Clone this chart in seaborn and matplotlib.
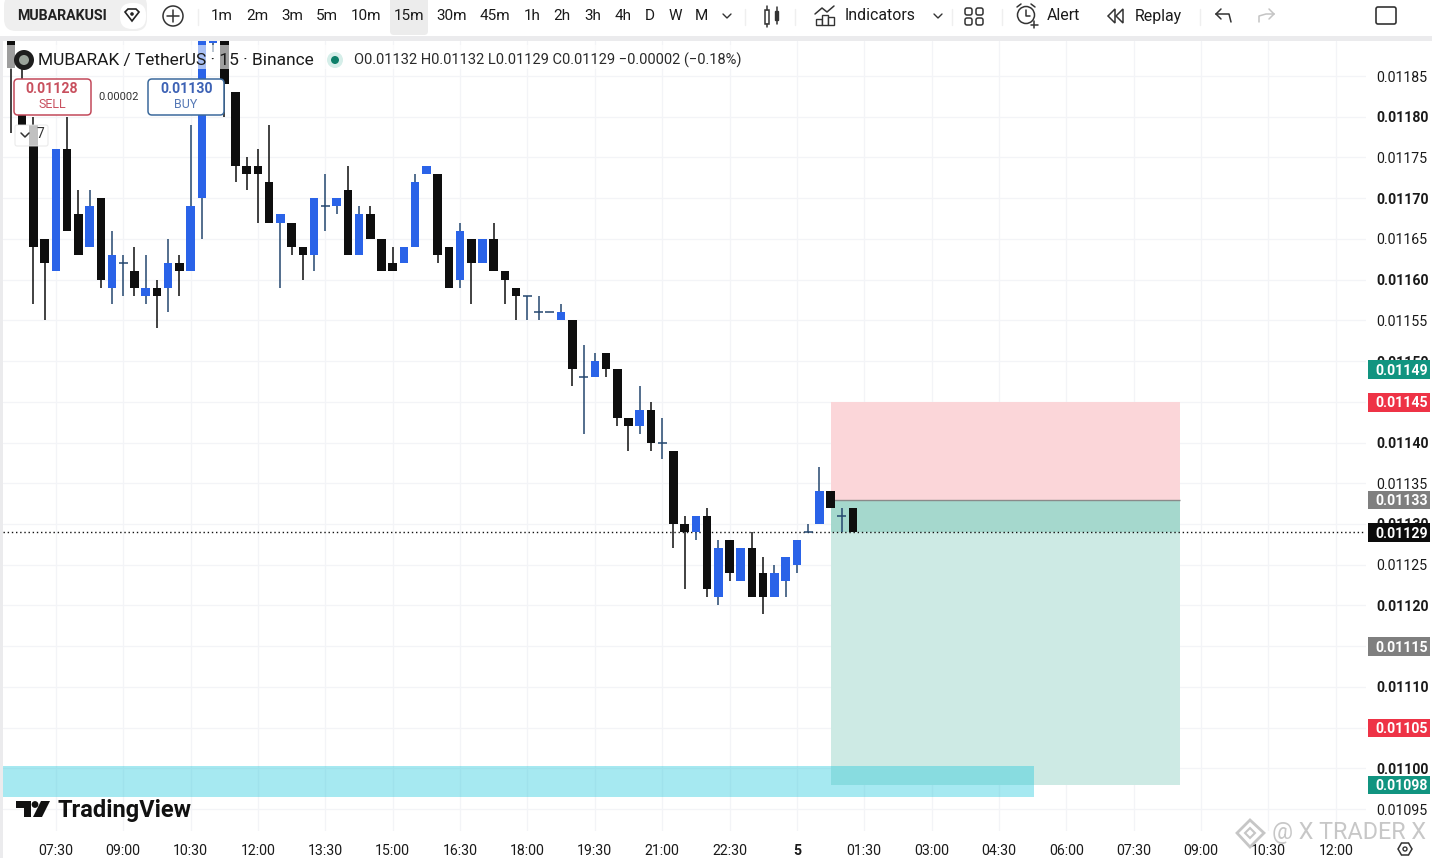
import numpy as np
import pandas as pd
import seaborn as sns
from matplotlib import pyplot as plt
from matplotlib.patches import Circle, FancyBboxPatch, Polygon, Rectangle
from matplotlib.ticker import FormatStrFormatter

# OHLC, in 0.00001 steps, one 15m candle each (first one 06:30)
OPENS = [1192, 1181, 1179, 1165, 1161, 1176, 1168, 1164, 1170, 1159, 1162, 1161, 1158, 1159, 1159, 1162, 1161, 1170, 1189,
         1192, 1183, 1174, 1174, 1172, 1167, 1167, 1164, 1163, 1169, 1169, 1171, 1163, 1168, 1165, 1162, 1162, 1164, 1173,
         1173, 1164, 1160, 1165, 1162, 1165, 1161, 1159, 1158, 1156, 1156, 1155, 1155, 1148, 1148, 1151, 1149, 1143, 1142,
         1144, 1140, 1139, 1130, 1129, 1131, 1121, 1128, 1123, 1127, 1124, 1121, 1123, 1125, 1129, 1130, 1134, 1131, 1132]
HIGHS = [1192, 1188, 1180, 1165, 1176, 1180, 1171, 1171, 1170, 1166, 1163, 1164, 1163, 1160, 1165, 1163, 1179, 1192, 1192,
         1192, 1183, 1175, 1176, 1179, 1168, 1167, 1164, 1170, 1173, 1170, 1174, 1169, 1169, 1165, 1164, 1164, 1173, 1174,
         1173, 1164, 1167, 1165, 1165, 1167, 1161, 1159, 1158, 1158, 1156, 1157, 1155, 1152, 1151, 1151, 1149, 1143, 1147,
         1145, 1143, 1139, 1131, 1131, 1132, 1128, 1128, 1127, 1129, 1126, 1125, 1126, 1128, 1130, 1137, 1134, 1132, 1132]
LOWS = [1178, 1179, 1157, 1155, 1161, 1166, 1163, 1164, 1159, 1157, 1158, 1158, 1157, 1154, 1156, 1158, 1161, 1165, 1188,
        1180, 1172, 1171, 1167, 1167, 1159, 1163, 1160, 1161, 1166, 1168, 1163, 1163, 1165, 1161, 1161, 1162, 1164, 1173,
        1162, 1159, 1159, 1157, 1162, 1161, 1157, 1155, 1155, 1155, 1156, 1155, 1147, 1141, 1148, 1148, 1142, 1139, 1141,
        1139, 1138, 1127, 1122, 1128, 1121, 1120, 1123, 1123, 1121, 1119, 1121, 1121, 1124, 1129, 1130, 1132, 1129, 1129]
CLOSES = [1186, 1179, 1164, 1162, 1176, 1166, 1163, 1169, 1160, 1163, 1162, 1159, 1159, 1158, 1162, 1161, 1169, 1192, 1192,
          1184, 1174, 1173, 1173, 1167, 1168, 1164, 1163, 1170, 1169, 1170, 1163, 1168, 1165, 1161, 1161, 1164, 1172, 1174,
          1163, 1159, 1166, 1162, 1165, 1161, 1160, 1158, 1158, 1156, 1156, 1156, 1149, 1148, 1150, 1149, 1143, 1142, 1144,
          1140, 1140, 1130, 1129, 1131, 1122, 1127, 1124, 1127, 1121, 1121, 1124, 1126, 1128, 1129, 1134, 1132, 1131, 1129]

TIME_LABELS = ["07:30", "09:00", "10:30", "12:00", "13:30", "15:00", "16:30", "18:00", "19:30", "21:00", "22:30", "5",
               "01:30", "03:00", "04:30", "06:00", "07:30", "09:00", "10:30", "12:00"]
TIME_TICKS = [4, 10, 16, 22, 28, 34, 40, 46, 52, 58, 64, 70, 76, 82, 88, 94, 100, 106, 112, 118]
PRICE_TICKS = [0.01095, 0.01100, 0.01105, 0.01110, 0.01115, 0.01120, 0.01125, 0.01130, 0.01135, 0.01140,
               0.01145, 0.01150, 0.01155, 0.01160, 0.01165, 0.01170, 0.01175, 0.01180, 0.01185]
TAG_PRICES = [0.01149, 0.01145, 0.01133, 0.01129, 0.01115, 0.01105, 0.01098]
TAG_COLOURS = ["#119480", "#ee3346", "#7f7f7f", "#0c0c0c", "#7f7f7f", "#ee3346", "#119480"]

LAST_PRICE = 0.01129
ENTRY, STOP, TARGET = 0.01133, 0.01145, 0.01098
ZONE_LOW, ZONE_HIGH = 0.010965, 0.011003

BLUE = "#2a63e8"
BLACK = "#0e0e0e"
WICK_BLUE = "#24476f"
GRID = "#f3f4f7"
W, H = 1432, 858

df = pd.DataFrame({"open": OPENS, "high": HIGHS, "low": LOWS, "close": CLOSES}) / 1e5
df["idx"] = df.index
df["height"] = (df["close"] - df["open"]).abs()
df["bottom"] = df[["open", "close"]].min(axis=1)

sns.set_style("white")
plt.rcParams["font.family"] = ["Roboto", "DejaVu Sans"]

fig = plt.figure(figsize=(W / 100, H / 100), dpi=100, facecolor="white")
ax = fig.add_axes([3 / W, 1 - 831 / H, (1366 - 3) / W, (831 - 41) / H])

# wicks first, bodies on top
up = df[df["close"] > df["open"]]
down = df[df["close"] < df["open"]]
doji = df[df["close"] == df["open"]]
ax.vlines(down["idx"], down["low"], down["high"], color=BLACK, lw=1.1, zorder=3)
ax.vlines(up["idx"], up["low"], up["high"], color=WICK_BLUE, lw=1.1, zorder=3)
ax.vlines(doji["idx"], doji["low"], doji["high"], color=WICK_BLUE, lw=1.1, zorder=3)
ax.hlines(doji["open"], doji["idx"] - 0.4, doji["idx"] + 0.4, color=WICK_BLUE, lw=1.1, zorder=3)

sns.barplot(data=down, x="idx", y="height", bottom=down["bottom"].values, native_scale=True, errorbar=None,
            color=BLACK, saturation=1, width=0.76, linewidth=0, zorder=4, ax=ax)
sns.barplot(data=up, x="idx", y="height", bottom=up["bottom"].values, native_scale=True, errorbar=None,
            color=BLUE, saturation=1, width=0.76, linewidth=0, zorder=4, ax=ax)

# long position tool + support zone
pos_left, pos_right = 73.0, 104.1
ax.add_patch(Rectangle((pos_left, ENTRY), pos_right - pos_left, STOP - ENTRY, fc="#fbd6d9", ec="none", zorder=1))
ax.add_patch(Rectangle((pos_left, TARGET), pos_right - pos_left, ENTRY - TARGET, fc="#cdeae4", ec="none", zorder=1))
ax.add_patch(Rectangle((pos_left, LAST_PRICE), pos_right - pos_left, ENTRY - LAST_PRICE, fc="#a5d8cd", ec="none", zorder=1.1))
ax.hlines(ENTRY, pos_left, pos_right, color="#8a8a8a", lw=1, zorder=2)
ax.add_patch(Rectangle((-1, ZONE_LOW), 91.1 + 1, ZONE_HIGH - ZONE_LOW, fc="#22c8dc", alpha=0.4, ec="none", zorder=2))

ax.axhline(LAST_PRICE, color="#111111", lw=1, ls=(0, (1, 2)), zorder=2.5)

ax.set_xlim(-0.71, 120.69)
ax.set_ylim(0.010923, 0.011893)
ax.set_xlabel("")
ax.set_ylabel("")
ax.set_axisbelow(True)
ax.grid(True, color=GRID, lw=0.9)
for s in ax.spines.values():
    s.set_visible(False)

ax.set_xticks(TIME_TICKS)
ax.set_xticklabels(TIME_LABELS, fontsize=10.2, color="#1a1a1a")
ax.set_yticks(PRICE_TICKS)
ax.yaxis.tick_right()
ax.yaxis.set_major_formatter(FormatStrFormatter("%.5f"))
ax.tick_params(axis="x", length=0, pad=9.3)
ax.tick_params(axis="y", length=0, pad=7.3, labelsize=10.2, labelcolor="#1a1a1a")
for lab in ax.get_xticklabels():
    if lab.get_text() == "5":
        lab.set_fontweight("bold")
for lab, p in zip(ax.get_yticklabels(), PRICE_TICKS):
    if round(p * 1e5) % 10 == 0:
        lab.set_fontweight("bold")

# coloured price tags on the scale
tag_tf = ax.get_yaxis_transform()
for price, colour in zip(TAG_PRICES, TAG_COLOURS):
    ax.add_patch(FancyBboxPatch((1.0015, price - 0.000012), 0.0455, 0.000023, transform=tag_tf, clip_on=False,
                                boxstyle="square,pad=0", fc=colour, ec="none", zorder=6))
    ax.annotate(f"{price:.5f}", (1.0068, price), xytext=(0, -1.1), textcoords="offset points", xycoords=tag_tf,
                color="white", fontsize=10.2, fontweight="bold", va="center", ha="left", annotation_clip=False, zorder=7)

# everything around the chart goes on a pixel overlay
ui = fig.add_axes([0, 0, 1, 1], zorder=10)
ui.set_xlim(0, W)
ui.set_ylim(H, 0)
ui.axis("off")
ui.patch.set_alpha(0)

TXT = "#1b1b1b"


def box(x0, y0, x1, y1, fc="white", ec="none", lw=1, r=4, **kw):
    ui.add_patch(FancyBboxPatch((x0 + r, y0 + r), x1 - x0 - 2 * r, y1 - y0 - 2 * r,
                                boxstyle=f"round,pad={r}", fc=fc, ec=ec, lw=lw, **kw))


def line(xs, ys, c="#333333", lw=1.1):
    ui.plot(xs, ys, color=c, lw=lw, solid_capstyle="round")


# toolbar
ui.add_patch(Rectangle((0, 0), W, 36, fc="white", ec="none"))
ui.add_patch(Rectangle((0, 36), W, 5, fc="#ebebed", ec="none"))
ui.add_patch(Rectangle((0, 41), 3, H - 41, fc="#ebebed", ec="none"))
box(4, -6, 147, 31, fc="#efefef", r=12)
box(120, 3, 146, 29, fc="white", r=12)
ui.text(17, 16, "MUBARAKUSI", fontsize=10.2, fontweight="bold", color="#222222", va="center")
ui.add_patch(Rectangle((100, 4), 20, 24, fc="#efefef", alpha=0.55, ec="none"))
ui.add_patch(Polygon([[125, 12], [128, 9], [136, 9], [139, 12], [132, 21]], fc="white", ec="#222222", lw=1.2))
ui.add_patch(Circle((132, 14), 1.8, fc="#222222", ec="none"))
ui.add_patch(Circle((173, 16), 10, fc="none", ec="#333333", lw=1.1))
line([167, 179], [16, 16])
line([173, 173], [10, 22])
box(390, -6, 428, 35, fc="#ececec", r=4)

for label, x in [("1m", 222), ("2m", 257), ("3m", 292), ("5m", 327), ("10m", 366), ("15m", 409), ("30m", 452), ("45m", 495),
                 ("1h", 532), ("2h", 562), ("3h", 593), ("4h", 623), ("D", 650), ("W", 675), ("M", 701)]:
    ui.text(x, 16, label, fontsize=11, color=TXT, ha="center", va="center")
line([723, 727, 731], [14, 18, 14], lw=1)
for x in [198, 745, 795, 952, 1002, 1200]:
    line([x, x], [9, 25], c="#efefef", lw=1)

# candle icon
ui.add_patch(Rectangle((765, 10), 4, 14, fc="white", ec="#333333", lw=1.1))
line([767, 767], [6, 10])
line([767, 767], [24, 27])
ui.add_patch(Rectangle((775, 11), 3, 9, fc="#333333", ec="#333333", lw=1))
line([776.5, 776.5], [7, 24])

# indicators icon
line([815, 822, 827, 834], [14, 8, 12, 6])
for x0, top in [(816, 19), (822, 15), (828, 17)]:
    ui.add_patch(Rectangle((x0, top), 6, 25 - top, fc="white", ec="#333333", lw=1))
ui.text(845, 16, "Indicators", fontsize=11.4, color=TXT, va="center")
line([934, 938, 942], [14, 18, 14], lw=1)

# layout icon
for x0 in (965, 976):
    for y0 in (8, 18):
        box(x0, y0, x0 + 7, y0 + 7, fc="none", ec="#333333", lw=1.1, r=2)

# alert + replay
ui.add_patch(Circle((1026, 15), 8.5, fc="none", ec="#333333", lw=1.1))
line([1026, 1026, 1030], [10, 16, 16])
line([1017, 1021], [7, 4])
line([1035, 1031], [7, 4])
line([1034, 1034], [21, 28])
line([1030.5, 1037.5], [24.5, 24.5])
ui.text(1047, 16, "Alert", fontsize=11.4, color=TXT, va="center")
ui.add_patch(Polygon([[1108, 16], [1115, 9], [1115, 23]], fc="none", ec="#333333", lw=1.1))
ui.add_patch(Polygon([[1116, 16], [1123, 9], [1123, 23]], fc="none", ec="#333333", lw=1.1))
ui.text(1135, 16, "Replay", fontsize=11.4, color=TXT, va="center")

# undo, redo, fullscreen box
line([1216, 1221, 1229, 1231], [14, 14, 14, 22])
line([1216, 1221], [14, 9])
line([1216, 1221], [14, 19])
line([1274, 1266, 1259, 1259], [14, 14, 16, 22], c="#c4c4c4")
line([1274, 1269], [14, 9], c="#c4c4c4")
line([1274, 1269], [14, 19], c="#c4c4c4")
box(1376, 7, 1396, 24, fc="white", ec="#333333", lw=1.2, r=2)

# legend rows, translucent over the candles
ui.add_patch(Rectangle((5, 45), 745, 24, fc="white", alpha=0.6, ec="none"))
ui.add_patch(Circle((24, 60), 10, fc="#1e1e1e", ec="none"))
ui.add_patch(Circle((24, 60), 5, fc="#9aa39a", ec="none"))
ui.text(38, 60, "MUBARAK / TetherUS · 15 · Binance", fontsize=12.5, color=TXT, va="center")
ui.add_patch(Circle((335, 60), 8, fc="#d5eee9", ec="none"))
ui.add_patch(Circle((335, 60), 4, fc="#0d7f69", ec="none"))
ui.text(354, 60, "O0.01132 H0.01132 L0.01129 C0.01129 −0.00002 (−0.18%)", fontsize=10.55, color="#2a2a2a", va="center")

# buy / sell buttons
box(14, 79, 91, 115, fc="white", ec="#c2495a", lw=1.1, r=4)
ui.text(52, 89, "0.01128", fontsize=10.2, fontweight="bold", color="#c8505e", ha="center", va="center")
ui.text(52, 104.5, "SELL", fontsize=9, color="#c8505e", ha="center", va="center")
box(148, 79, 224, 115, fc="white", ec="#3c6a9c", lw=1.1, r=4)
ui.text(187, 89, "0.01130", fontsize=10.2, fontweight="bold", color="#3d62b5", ha="center", va="center")
ui.text(186, 104.5, "BUY", fontsize=9, color="#5578b5", ha="center", va="center")
ui.text(119, 97, "0.00002", fontsize=8, color="#333333", ha="center", va="center")
box(15, 125, 48, 146, fc="white", ec="#e4e4e4", lw=0.8, r=2, alpha=0.75)
line([21, 25, 29], [133, 137, 133], lw=1.1)
ui.text(40, 134.5, "7", fontsize=10, color="#333333", ha="center", va="center")

# TradingView logo
ui.add_patch(Polygon([[16, 801], [31, 801], [31, 817], [24, 817], [24, 808], [16, 808]], fc="#111111", ec="none"))
ui.add_patch(Circle((35, 804.5), 3.4, fc="#111111", ec="none"))
ui.add_patch(Polygon([[41, 801], [50, 801], [42, 817], [33, 817]], fc="#111111", ec="none"))
ui.text(57, 810, "TradingView", fontsize=17, fontweight="bold", color="#111111", va="center")

# watermark + scale settings icon
ui.add_patch(Polygon([[1250, 820], [1264, 833], [1250, 847], [1237, 833]], fc="none", ec="#c6c6c6", lw=2))
ui.add_patch(Polygon([[1250, 828], [1255, 833], [1250, 838], [1245, 833]], fc="none", ec="#c6c6c6", lw=1.5))
ui.text(1272, 833, "@ X TRADER X", fontsize=16.8, color="#b5b5b5", alpha=0.75, va="center")
ui.add_patch(Polygon([[1398, 849], [1401.5, 843], [1408.5, 843], [1412, 849], [1408.5, 855], [1401.5, 855]],
                     fc="none", ec="#333333", lw=1.1))
ui.add_patch(Circle((1405, 849), 2, fc="none", ec="#333333", lw=1))

fig.savefig("out.png", dpi=100)
